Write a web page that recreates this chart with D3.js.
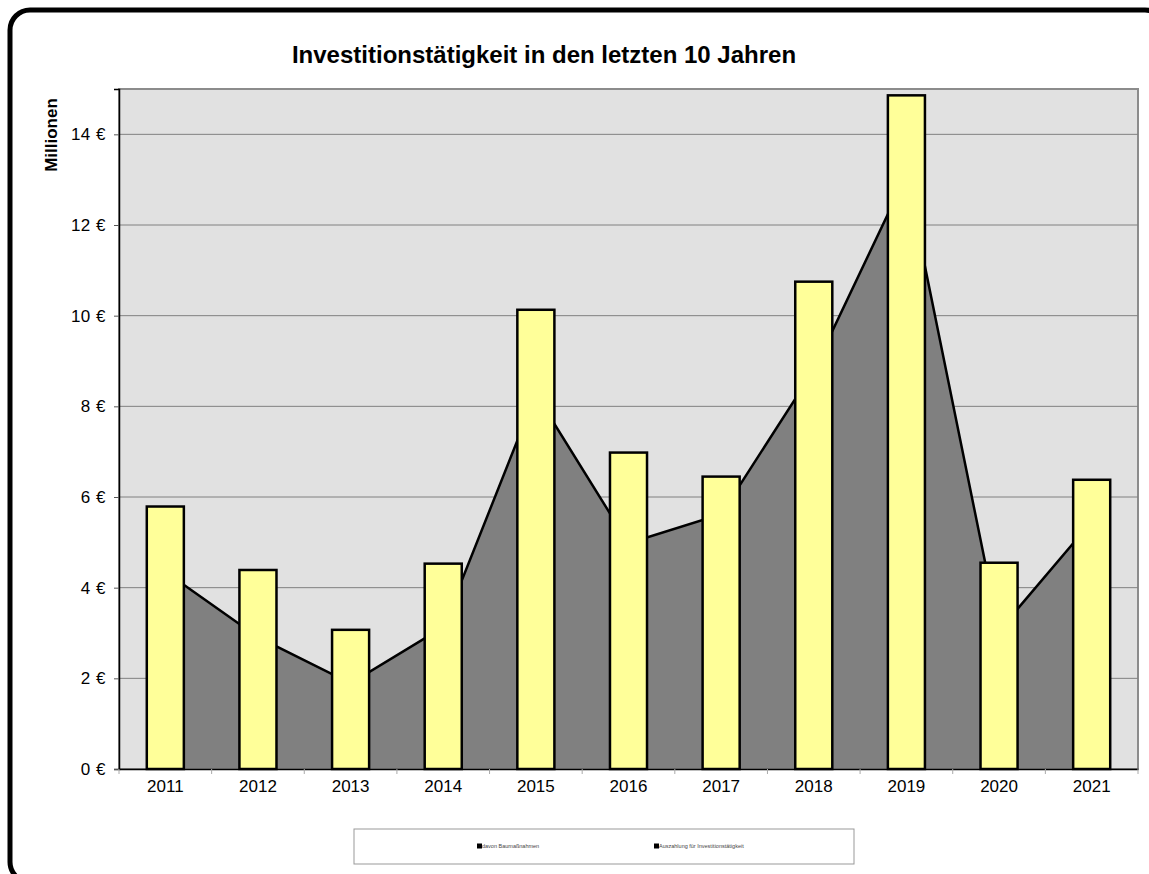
<!DOCTYPE html>
<html>
<head>
<meta charset="utf-8">
<script src="https://cdn.jsdelivr.net/npm/d3@7"></script>
<style>
  body { margin: 0; background: #fff; }
  text { font-family: Arial, "Liberation Sans", sans-serif; }
</style>
</head>
<body>
<script>
// values (Millionen €)
var years = ["2011","2012","2013","2014","2015","2016","2017","2018","2019","2020","2021"];
var auszahlung = [5.79, 4.39, 3.07, 4.53, 10.13, 6.98, 6.45, 10.75, 14.86, 4.55, 6.38];
var baumassnahmen = [4.35, 2.91, 1.89, 3.13, 8.27, 4.98, 5.62, 8.8, 13.1, 3.05, 5.46];
var yTicks = [0, 2, 4, 6, 8, 10, 12, 14];
var legendLabels = ["davon Baumaßnahmen", "Auszahlung für Investitionstätigkeit"];

const W = 1149, H = 874;
const plot = {left: 119, top: 89, right: 1138, bottom: 769};

var svg = d3.select("body").append("svg")
    .attr("width", W)
    .attr("height", H);

// outer rounded frame
svg.append("rect")
    .attr("x", 10).attr("y", 10)
    .attr("width", 1155).attr("height", 872)
    .attr("rx", 20)
    .attr("fill", "#fff")
    .attr("stroke", "#000")
    .attr("stroke-width", 5);

var xScale = d3.scaleBand()
    .domain(years)
    .range([plot.left, plot.right])
    .padding(0);

var yScale = d3.scaleLinear()
    .domain([0, 15])
    .range([plot.bottom, plot.top]);

// plot background
svg.append("rect")
    .attr("x", plot.left).attr("y", plot.top)
    .attr("width", plot.right - plot.left)
    .attr("height", plot.bottom - plot.top)
    .attr("fill", "#e1e1e1")
    .attr("stroke", "#8c8c8c")
    .attr("stroke-width", 2);

// gridlines
svg.append("g").selectAll("line")
    .data(yTicks.filter(function(d) { return d > 0; }))
    .enter().append("line")
    .attr("x1", plot.left).attr("x2", plot.right)
    .attr("y1", function(d) { return yScale(d); })
    .attr("y2", function(d) { return yScale(d); })
    .attr("stroke", "#808080")
    .attr("stroke-width", 1);

// area series (drawn behind the bars)
var cx = function(d, i) { return xScale(years[i]) + xScale.bandwidth() / 2; };

var area = d3.area()
    .x(cx)
    .y0(yScale(0))
    .y1(function(d) { return yScale(d); });

var line = d3.line()
    .x(cx)
    .y(function(d) { return yScale(d); });

svg.append("path")
    .datum(baumassnahmen)
    .attr("d", area)
    .attr("fill", "#808080");

svg.append("path")
    .datum(baumassnahmen)
    .attr("d", line)
    .attr("fill", "none")
    .attr("stroke", "#000")
    .attr("stroke-width", 2.5);

// bars
var barW = xScale.bandwidth() * 0.4;
svg.append("g").selectAll("rect")
    .data(auszahlung)
    .enter().append("rect")
    .attr("x", function(d, i) { return cx(d, i) - barW / 2; })
    .attr("y", function(d) { return yScale(d); })
    .attr("width", barW)
    .attr("height", function(d) { return yScale(0) - yScale(d); })
    .attr("fill", "#ffff99")
    .attr("stroke", "#000")
    .attr("stroke-width", 2.5);

// axes
var yAxis = d3.axisLeft(yScale)
    .tickValues(yTicks)
    .tickSize(5)
    .tickPadding(8)
    .tickFormat(function(d) { return d + " €"; });

var gy = svg.append("g")
    .attr("transform", "translate(" + plot.left + ",0)")
    .call(yAxis);
gy.select(".domain").attr("stroke", "#000").attr("stroke-width", 1.5);
gy.selectAll(".tick line").attr("stroke", "#555");
gy.selectAll(".tick text")
    .attr("font-size", 17)
    .attr("letter-spacing", 0.5)
    .attr("fill", "#000");

var xAxis = d3.axisBottom(xScale)
    .tickSize(0)
    .tickPadding(11);

var gx = svg.append("g")
    .attr("transform", "translate(0," + plot.bottom + ")")
    .call(xAxis);
gx.select(".domain").attr("stroke", "#000").attr("stroke-width", 1.5);
gx.selectAll(".tick text")
    .attr("font-size", 17)
    .attr("fill", "#000");

// x ticks at the category boundaries
svg.append("g").selectAll("line")
    .data(years.concat(["end"]))
    .enter().append("line")
    .attr("x1", function(d, i) { return plot.left + i * xScale.bandwidth(); })
    .attr("x2", function(d, i) { return plot.left + i * xScale.bandwidth(); })
    .attr("y1", plot.bottom)
    .attr("y2", plot.bottom + 5)
    .attr("stroke", "#aaa");

// title
svg.append("text")
    .attr("x", 544)
    .attr("y", 63)
    .attr("text-anchor", "middle")
    .attr("font-size", 24)
    .attr("font-weight", "bold")
    .text("Investitionstätigkeit in den letzten 10 Jahren");

// y axis label
svg.append("text")
    .attr("transform", "translate(57,135) rotate(-90)")
    .attr("text-anchor", "middle")
    .attr("font-size", 17)
    .attr("font-weight", "bold")
    .text("Millionen");

// legend
svg.append("rect")
    .attr("x", 354).attr("y", 829)
    .attr("width", 500).attr("height", 35)
    .attr("fill", "#fff")
    .attr("stroke", "#999")
    .attr("stroke-width", 1);

var legendX = [477, 654];
var lg = svg.append("g").selectAll("g")
    .data(legendLabels)
    .enter().append("g")
    .attr("transform", function(d, i) { return "translate(" + legendX[i] + ",846)"; });

lg.append("rect")
    .attr("x", 0).attr("y", -2.5)
    .attr("width", 5).attr("height", 5)
    .attr("fill", "#000");

lg.append("text")
    .attr("x", 5)
    .attr("y", 2)
    .attr("font-size", 5.5)
    .attr("fill", "#444")
    .text(function(d) { return d; });
</script>
</body>
</html>
